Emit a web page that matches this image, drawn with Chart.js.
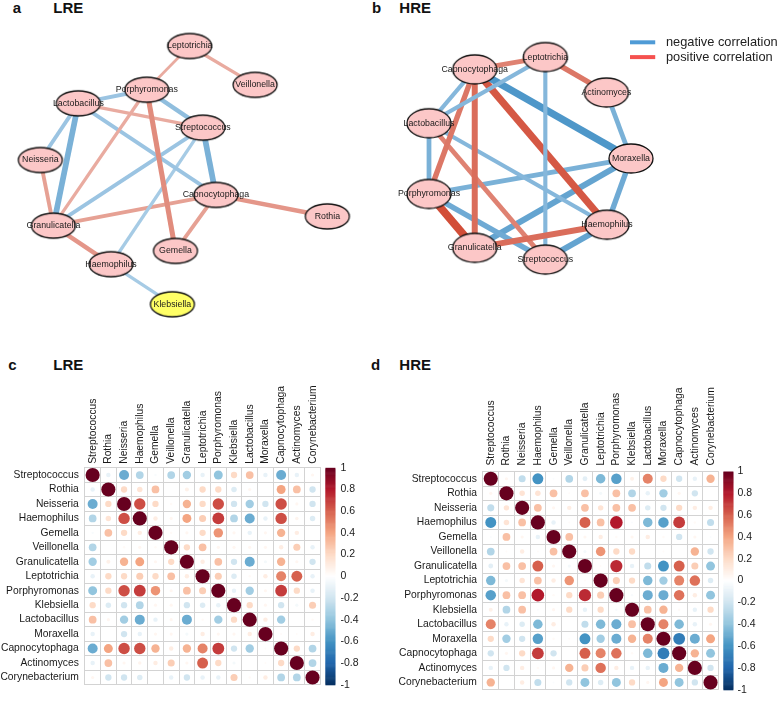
<!DOCTYPE html>
<html>
<head>
<meta charset="utf-8">
<script src="https://cdn.jsdelivr.net/npm/chart.js@4.4.1/dist/chart.umd.min.js"></script>
<style>
  body { margin: 0; background: #fff; width: 784px; height: 711px; position: relative; overflow: hidden;
         font-family: "Liberation Sans", Arial, sans-serif; }
  .box { position: absolute; }
  .tag { position: absolute; font-weight: bold; font-size: 15px; line-height: 1; color: #111; }
</style>
</head>
<body>

<div class="tag" style="left:12.7px;top:0">a</div>
<div class="tag" style="left:53.3px;top:0">LRE</div>
<div class="tag" style="left:372px;top:0">b</div>
<div class="tag" style="left:399.3px;top:0">HRE</div>
<div class="tag" style="left:8.3px;top:357.3px">c</div>
<div class="tag" style="left:53.3px;top:357.3px">LRE</div>
<div class="tag" style="left:371px;top:357.3px">d</div>
<div class="tag" style="left:399.3px;top:357.3px">HRE</div>

<div class="box" style="left:0;top:0"><canvas id="netLRE" width="392" height="345"></canvas></div>
<div class="box" style="left:392px;top:0"><canvas id="netHRE" width="392" height="345"></canvas></div>
<div class="box" style="left:0;top:375px"><canvas id="matLRE" width="370" height="336"></canvas></div>
<div class="box" style="left:392px;top:375px"><canvas id="matHRE" width="392" height="340"></canvas></div>

<script>
// ---------- data ----------

const taxa = ["Streptococcus", "Rothia", "Neisseria", "Haemophilus", "Gemella", "Veillonella",
  "Granulicatella", "Leptotrichia", "Porphyromonas", "Klebsiella", "Lactobacillus", "Moraxella",
  "Capnocytophaga", "Actinomyces", "Corynebacterium"];

// correlation matrix, low risk group (panel c)
const lreCorr = [
  [1, -0.1, -0.5, -0.3, -0.03, -0.3, -0.35, -0.1, -0.4, 0.2, 0.3, -0.1, -0.5, -0.1, 0.05],
  [-0.1, 1, 0.2, 0.15, 0.3, 0, 0.08, 0.2, 0.2, -0.15, 0.05, 0, 0.4, 0.3, -0.2],
  [-0.5, 0.2, 1, 0.65, 0.2, 0.03, 0.35, 0.2, 0.65, -0.2, -0.35, -0.2, 0.65, 0.05, -0.2],
  [-0.3, 0.15, 0.65, 1, 0.1, 0.05, 0.4, 0.25, 0.7, -0.3, -0.5, -0.1, 0.65, 0.06, -0.15],
  [-0.03, 0.3, 0.2, 0.1, 1, 0.03, 0.05, 0.2, 0.45, 0.05, -0.1, 0.05, 0.35, 0.1, 0],
  [-0.3, 0, 0.03, 0.05, 0.03, 1, 0.2, 0.3, 0.05, 0.05, 0.05, 0.05, 0.1, 0.25, -0.1],
  [-0.35, 0.08, 0.35, 0.4, 0.05, 0.2, 1, 0.1, 0.3, -0.2, -0.5, -0.05, 0.35, 0.05, -0.2],
  [-0.1, 0.2, 0.2, 0.25, 0.2, 0.3, 0.1, 1, 0.25, -0.15, 0.03, 0.1, 0.5, 0.6, -0.1],
  [-0.4, 0.2, 0.65, 0.7, 0.45, 0.05, 0.3, 0.25, 1, -0.1, -0.35, 0.05, 0.7, 0.2, -0.1],
  [0.2, -0.15, -0.2, -0.3, 0.05, 0.05, -0.2, -0.15, -0.1, 1, 0.2, 0.05, -0.2, -0.05, 0.25],
  [0.3, 0.05, -0.35, -0.5, -0.1, 0.05, -0.5, 0.03, -0.35, 0.2, 1, 0.1, -0.35, 0, 0.03],
  [-0.1, 0, -0.2, -0.1, 0.05, 0.05, -0.05, 0.1, 0.05, 0.05, 0.1, 1, 0.02, 0.02, 0.1],
  [-0.5, 0.4, 0.65, 0.65, 0.35, 0.1, 0.35, 0.5, 0.7, -0.2, -0.35, 0.02, 1, 0.2, -0.3],
  [-0.1, 0.3, 0.05, 0.06, 0.1, 0.25, 0.05, 0.6, 0.2, -0.05, 0, 0.02, 0.2, 1, -0.3],
  [0.05, -0.2, -0.2, -0.15, 0, -0.1, -0.2, -0.1, -0.1, 0.25, 0.03, 0.1, -0.3, -0.3, 1]
];

// correlation matrix, high risk group (panel d)
const hreCorr = [
  [1, 0.05, -0.25, -0.6, -0.02, -0.3, -0.12, -0.45, -0.55, 0.08, 0.5, 0.2, -0.2, -0.1, 0.35],
  [0.05, 1, 0.15, 0.15, 0.3, 0.02, 0.3, -0.05, 0.3, -0.3, -0.1, -0.35, 0.05, -0.2, 0],
  [-0.25, 0.15, 1, 0.3, 0.05, 0.1, 0.3, 0.15, 0.3, 0.3, -0.15, -0.2, 0.2, 0.1, 0.1],
  [-0.6, 0.15, 0.3, 1, -0.1, 0.02, 0.6, 0.3, 0.8, -0.02, -0.45, -0.55, 0.7, 0.03, -0.25],
  [-0.02, 0.3, 0.05, -0.1, 1, 0.3, 0.05, 0.1, 0.03, 0.05, 0.1, 0.03, -0.2, 0.05, -0.02],
  [-0.3, 0.02, 0.1, 0.02, 0.3, 1, -0.05, 0.45, 0.2, 0.2, 0, 0.02, 0, 0.35, -0.2],
  [-0.12, 0.3, 0.3, 0.6, 0.05, -0.05, 1, 0.02, 0.75, -0.1, -0.25, -0.6, 0.6, 0.25, -0.4],
  [-0.45, -0.05, 0.15, 0.3, 0.1, 0.45, 0.02, 1, 0.25, 0.2, -0.45, -0.35, 0.5, 0.55, -0.15],
  [-0.55, 0.3, 0.3, 0.8, 0.03, 0.2, 0.75, 0.25, 1, -0.03, -0.5, -0.5, 0.55, 0.1, -0.4],
  [0.08, -0.3, 0.3, -0.02, 0.05, 0.2, -0.1, 0.2, -0.03, 1, 0.3, 0.35, 0.03, -0.1, 0.2],
  [0.5, -0.1, -0.15, -0.45, 0.1, 0, -0.25, -0.45, -0.5, 0.3, 1, 0.5, -0.45, -0.1, 0.05],
  [0.2, -0.35, -0.2, -0.55, 0.03, 0.02, -0.6, -0.35, -0.5, 0.35, 0.5, 1, -0.7, -0.5, 0.4],
  [-0.2, 0.05, 0.2, 0.7, -0.2, 0, 0.6, 0.5, 0.55, 0.03, -0.45, -0.7, 1, 0.35, -0.4],
  [-0.1, -0.2, 0.1, 0.03, 0.05, 0.35, 0.25, 0.55, 0.1, -0.1, -0.1, -0.5, 0.35, 1, -0.2],
  [0.35, 0, 0.1, -0.25, -0.02, -0.2, -0.4, -0.15, -0.4, 0.2, 0.05, 0.4, -0.4, -0.2, 1]
];

const colorbarTicks = [1, 0.8, 0.6, 0.4, 0.2, 0, -0.2, -0.4, -0.6, -0.8, -1];

// network a: node layout (panel units) and edges
const lreNodes = ["Leptotrichia", "Veillonella", "Porphyromonas", "Lactobacillus", "Streptococcus",
  "Neisseria", "Capnocytophaga", "Rothia", "Granulicatella", "Gemella", "Haemophilus", "Klebsiella"];
const lreNodeX = [189.3, 259.3, 143.3, 70, 203.3, 29.3, 217.3, 336.7, 43.3, 174, 105, 170.7];
const lreNodeY = [35.7, 77.7, 83, 97.7, 124, 159, 196.7, 220, 230, 257.3, 271.7, 315];
const lreHighlight = ["Klebsiella"];
const lreEdges = [
  ["Leptotrichia", "Porphyromonas"], ["Leptotrichia", "Veillonella"],
  ["Porphyromonas", "Lactobacillus"], ["Porphyromonas", "Streptococcus"],
  ["Porphyromonas", "Gemella"], ["Porphyromonas", "Granulicatella"],
  ["Lactobacillus", "Streptococcus"], ["Lactobacillus", "Neisseria"],
  ["Lactobacillus", "Granulicatella"], ["Lactobacillus", "Capnocytophaga"],
  ["Streptococcus", "Capnocytophaga"], ["Streptococcus", "Granulicatella"],
  ["Streptococcus", "Haemophilus"], ["Neisseria", "Granulicatella"],
  ["Capnocytophaga", "Granulicatella"], ["Capnocytophaga", "Gemella"],
  ["Capnocytophaga", "Rothia"], ["Granulicatella", "Haemophilus"],
  ["Haemophilus", "Klebsiella"]
];

// network b
const hreNodes = ["Leptotrichia", "Capnocytophaga", "Actinomyces", "Lactobacillus", "Moraxella",
  "Porphyromonas", "Haemophilus", "Granulicatella", "Streptococcus"];
const hreNodeX = [542.3, 466.7, 607.7, 417.7, 634, 417.7, 608.3, 466.7, 542.3];
const hreNodeY = [47.7, 61, 86, 119.3, 157.3, 195.7, 229, 254, 266.7];
const hreEdges = [
  ["Capnocytophaga", "Leptotrichia"], ["Leptotrichia", "Actinomyces"],
  ["Actinomyces", "Moraxella"], ["Moraxella", "Haemophilus"],
  ["Haemophilus", "Streptococcus"], ["Granulicatella", "Haemophilus"],
  ["Porphyromonas", "Granulicatella"], ["Lactobacillus", "Porphyromonas"],
  ["Capnocytophaga", "Lactobacillus"], ["Leptotrichia", "Lactobacillus"],
  ["Leptotrichia", "Streptococcus"], ["Capnocytophaga", "Moraxella"],
  ["Capnocytophaga", "Haemophilus"], ["Capnocytophaga", "Granulicatella"],
  ["Capnocytophaga", "Porphyromonas"], ["Lactobacillus", "Haemophilus"],
  ["Lactobacillus", "Streptococcus"], ["Porphyromonas", "Moraxella"],
  ["Porphyromonas", "Streptococcus"], ["Granulicatella", "Moraxella"]
];

const legendLabels = ["negative correlation", "positive correlation"];

// ---------- colours ----------

const FONT = '"Liberation Sans", Arial, sans-serif';
Chart.defaults.font.family = FONT;
Chart.defaults.animation = false;

// corrplot RdBu ramp, -1 .. 1
const rdbuStops = ["#053061", "#2166AC", "#4393C3", "#92C5DE", "#D1E5F0", "#FFFFFF",
  "#FDDBC7", "#F4A582", "#D6604D", "#B2182B", "#67001F"];

function hexRgb(h) {
  return [parseInt(h.substr(1, 2), 16), parseInt(h.substr(3, 2), 16), parseInt(h.substr(5, 2), 16)];
}

function mix(c1, c2, t) {
  const a = hexRgb(c1), b = hexRgb(c2);
  const r = a.map((v, k) => Math.round(v + (b[k] - v) * t));
  return `rgb(${r[0]},${r[1]},${r[2]})`;
}

function rdbu(v) {
  const p = (Math.max(-1, Math.min(1, v)) + 1) / 2 * 10;
  const k = Math.min(9, Math.floor(p));
  return mix(rdbuStops[k], rdbuStops[k + 1], p - k);
}

function edgeColor(r) {
  const t = Math.max(0, Math.min(1, (Math.abs(r) - 0.3) / 0.45));
  return r > 0 ? mix("#E9ABA0", "#D24E38", t) : mix("#A6CBE5", "#4390C6", t);
}

// ---------- networks ----------

function ellipseImage(w, h, fill) {
  const c = document.createElement("canvas");
  c.width = w + 4;
  c.height = h + 4;
  const g = c.getContext("2d");
  g.beginPath();
  g.ellipse(c.width / 2, c.height / 2, w / 2, h / 2, 0, 0, Math.PI * 2);
  g.fillStyle = fill;
  g.fill();
  g.lineWidth = 1.3;
  g.strokeStyle = "#111";
  g.stroke();
  return c;
}

const nodeLabels = {
  id: "nodeLabels",
  afterDatasetsDraw(chart, args, opts) {
    const g = chart.ctx;
    const meta = chart.getDatasetMeta(0);
    g.save();
    g.font = `8.8px ${FONT}`;
    g.fillStyle = "#1a1a1a";
    g.textAlign = "center";
    g.textBaseline = "middle";
    meta.data.forEach((pt, i) => g.fillText(opts.names[i], pt.x, pt.y));

    if (opts.legend) {
      const x = chart.scales.x, y = chart.scales.y;
      const colors = ["#4F9BD6", "#F5514F"];
      opts.legend.forEach((txt, i) => {
        const ly = y.getPixelForValue(31.7 + i * 16);
        g.strokeStyle = colors[i];
        g.lineWidth = 4;
        g.beginPath();
        g.moveTo(x.getPixelForValue(633), ly);
        g.lineTo(x.getPixelForValue(660), ly);
        g.stroke();
        g.font = `12.8px ${FONT}`;
        g.fillStyle = "#222";
        g.textAlign = "left";
        g.fillText(txt, x.getPixelForValue(671.5), ly);
      });
    }
    g.restore();
  }
};

function drawNetwork(id, nodes, nx, ny, edges, corr, opt) {
  const imgs = nodes.map(n => ellipseImage(opt.ellW, opt.ellH,
    (opt.highlight || []).includes(n) ? "#FFFF66" : "#FCC7C7"));

  const datasets = [{
    data: nodes.map((n, i) => ({ x: nx[i], y: ny[i] })),
    pointStyle: c => imgs[c.dataIndex],
    pointRadius: 12,
    order: 0
  }];

  edges.forEach(function (e) {
    const r = corr[taxa.indexOf(e[0])][taxa.indexOf(e[1])];
    const i = nodes.indexOf(e[0]);
    const j = nodes.indexOf(e[1]);
    datasets.push({
      data: [{ x: nx[i], y: ny[i] }, { x: nx[j], y: ny[j] }],
      showLine: true,
      borderColor: edgeColor(r),
      borderWidth: opt.wSlope * Math.abs(r) + opt.wOffset,
      borderCapStyle: "butt",
      pointRadius: 0,
      order: 1
    });
  });

  new Chart(document.getElementById(id), {
    type: "scatter",
    data: { datasets: datasets },
    options: {
      responsive: false,
      events: [],
      layout: { padding: 0 },
      plugins: {
        legend: { display: false },
        tooltip: { enabled: false },
        nodeLabels: { names: nodes, legend: opt.legend }
      },
      scales: {
        x: { type: "linear", display: false, min: opt.xMin, max: opt.xMin + 392 },
        y: { type: "linear", display: false, min: 0, max: 345, reverse: true }
      }
    },
    plugins: [nodeLabels]
  });
}

drawNetwork("netLRE", lreNodes, lreNodeX, lreNodeY, lreEdges, lreCorr,
  { xMin: 0, ellW: 44, ellH: 25, highlight: lreHighlight, wSlope: 12, wOffset: -0.3 });
drawNetwork("netHRE", hreNodes, hreNodeX, hreNodeY, hreEdges, hreCorr,
  { xMin: 392, ellW: 44, ellH: 29, wSlope: 12.5, wOffset: -1.5, legend: legendLabels });

// ---------- correlation matrices ----------

const colorbar = {
  id: "colorbar",
  afterDraw(chart) {
    const g = chart.ctx;
    const cb = chart.scales.cb;
    const x0 = chart.chartArea.right + 5;
    const n = 200;
    for (let k = 0; k < n; k++) {
      const v1 = 1 - k * 2 / n, v2 = 1 - (k + 1) * 2 / n;
      const y1 = cb.getPixelForValue(v1), y2 = cb.getPixelForValue(v2);
      g.fillStyle = rdbu((v1 + v2) / 2);
      g.fillRect(x0, y1, 10, y2 - y1 + 0.6);
    }
  }
};

function drawMatrix(id, corr, box) {
  const points = [];
  corr.forEach(function (row, i) {
    row.forEach(function (v, j) {
      points.push({ x: taxa[j], y: taxa[i], v: v });
    });
  });

  const tickFont = { size: 10.3, family: FONT };
  const gridColor = "#d3d3d3";
  const cell = (box.width - box.left - box.right) / taxa.length;

  new Chart(document.getElementById(id), {
    type: "bubble",
    data: {
      datasets: [{
        data: points,
        backgroundColor: c => rdbu(c.raw ? c.raw.v : 0),
        borderWidth: 0,
        radius: c => c.raw ? 0.45 * Math.sqrt(Math.abs(c.raw.v)) * cell : 0
      }]
    },
    options: {
      responsive: false,
      events: [],
      layout: { padding: { bottom: box.padBottom } },
      plugins: { legend: { display: false }, tooltip: { enabled: false } },
      scales: {
        x: {
          type: "category", labels: taxa, position: "top", offset: true,
          grid: { offset: true, color: gridColor, drawTicks: false },
          border: { color: gridColor },
          ticks: { autoSkip: false, minRotation: 90, maxRotation: 90, padding: box.colPad,
                   labelOffset: 12.5, font: tickFont, color: "#1a1a1a" },
          afterFit: s => { s.height = box.top; }
        },
        y: {
          type: "category", labels: taxa, position: "left", offset: true,
          grid: { offset: true, color: gridColor, drawTicks: false },
          border: { color: gridColor },
          ticks: { autoSkip: false, padding: 6, font: tickFont, color: "#1a1a1a" },
          afterFit: s => { s.width = box.left; }
        },
        cb: {
          axis: "y", type: "linear", position: "right", min: -1, max: 1,
          grid: { display: false, drawTicks: false },
          border: { display: false },
          afterBuildTicks: s => { s.ticks = colorbarTicks.map(v => ({ value: v })); },
          ticks: { padding: box.cbPad, font: { size: 10.5, family: FONT }, color: "#1a1a1a",
                   callback: v => String(Math.round(v * 10) / 10) },
          afterFit: s => { s.width = box.right; }
        }
      }
    },
    plugins: [colorbar]
  });
}

drawMatrix("matLRE", lreCorr, { width: 370, left: 84.8, right: 49.6, top: 92.8, padBottom: 7.4, colPad: 4, cbPad: 20 });
drawMatrix("matHRE", hreCorr, { width: 392, left: 90.9, right: 65.6, top: 96.5, padBottom: 8, colPad: 6, cbPad: 19 });
</script>
</body>
</html>
